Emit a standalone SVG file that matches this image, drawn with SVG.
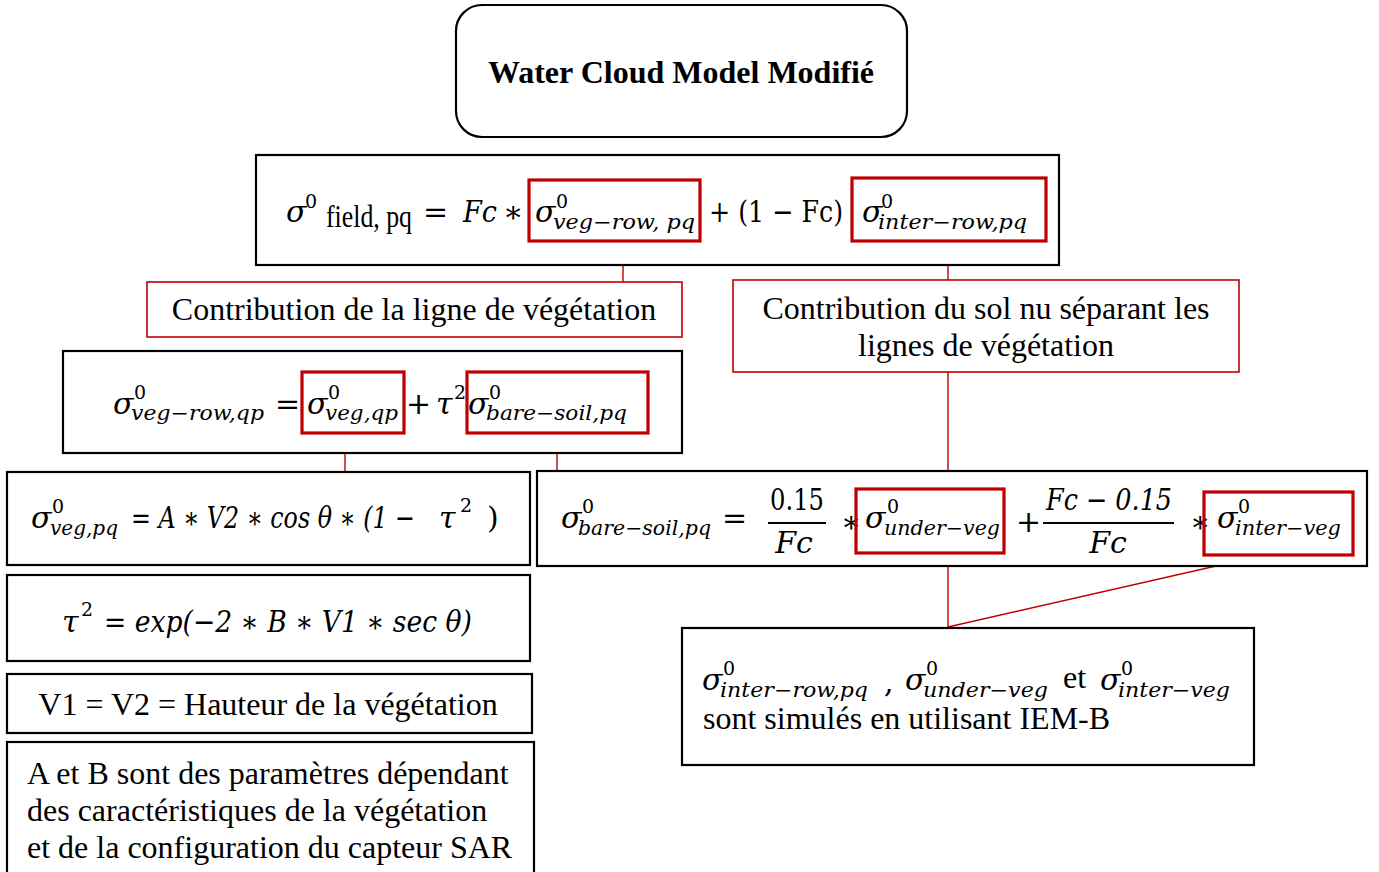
<svg xmlns="http://www.w3.org/2000/svg" width="1379" height="872" viewBox="0 0 1379 872">
<style>
.box{fill:#fff;stroke:#000;stroke-width:2.2}
.rbox{fill:none;stroke:#c00000;stroke-width:3.2}
.lbox{fill:#fff;stroke:#c00000;stroke-width:1.6}
.conn{stroke:#c00000;stroke-width:1.4;fill:none}
.t{font-family:"Liberation Serif","Times New Roman",serif;font-size:32px;fill:#000}
.b{font-weight:bold;font-size:32px}
.m{font-family:"DejaVu Serif",serif;font-style:italic;font-size:30px;fill:#000}
.mu{font-family:"DejaVu Serif",serif;font-size:30px;fill:#000}
.sub{font-family:"DejaVu Serif",serif;font-style:italic;font-size:20px;fill:#000}
.sup{font-family:"DejaVu Serif",serif;font-style:normal;font-size:19px;fill:#000}
</style>
<rect width="1379" height="872" fill="#fff"/>
<g id="connectors">
<line class="conn" x1="623" y1="241" x2="623" y2="282"/>
<line class="conn" x1="948" y1="241" x2="948" y2="280"/>
<line class="conn" x1="948" y1="372" x2="948" y2="471"/>
<line class="conn" x1="345" y1="433" x2="345" y2="472"/>
<line class="conn" x1="557" y1="433" x2="557" y2="471"/>
<line class="conn" x1="948" y1="555" x2="948" y2="627"/>
<line class="conn" x1="1260" y1="556" x2="948" y2="627"/>
</g>
<g id="title">
<rect x="456" y="5" width="451" height="132" rx="26" fill="#fff" stroke="#000" stroke-width="2.2"/>
<text class="t b" x="681" y="83" text-anchor="middle">Water Cloud Model Modifié</text>
</g>
<g id="formula-field">
<rect class="box" x="256" y="155" width="803" height="110"/>
<text class="m" x="286" y="222">σ</text>
<text class="sup" x="305" y="208">0</text>
<text class="t" x="326" y="227" font-size="22" textLength="86" lengthAdjust="spacingAndGlyphs">field, pq</text>
<text class="mu" x="423" y="222">=</text>
<text class="m" x="463" y="222" textLength="34" lengthAdjust="spacingAndGlyphs">Fc</text>
<text class="mu" x="503" y="222">∗</text>
<rect class="rbox" x="529" y="180" width="171" height="61"/>
<text class="m" x="535" y="222">σ</text>
<text class="sup" x="556" y="208">0</text>
<text class="sub" x="553" y="229" textLength="142" lengthAdjust="spacingAndGlyphs">veg−row, pq</text>
<text class="mu" x="709" y="222" textLength="134" lengthAdjust="spacingAndGlyphs">+ (1 − Fc)</text>
<rect class="rbox" x="852" y="178" width="194" height="63"/>
<text class="m" x="862" y="222">σ</text>
<text class="sup" x="881" y="208">0</text>
<text class="sub" x="878" y="229" textLength="149" lengthAdjust="spacingAndGlyphs">inter−row,pq</text>
</g>
<g id="label-veg">
<rect class="lbox" x="147" y="282" width="535" height="55"/>
<text class="t" x="414" y="320" text-anchor="middle">Contribution de la ligne de végétation</text>
</g>
<g id="label-sol">
<rect class="lbox" x="733" y="280" width="506" height="92"/>
<text class="t" x="986" y="319" text-anchor="middle">Contribution du sol nu séparant les</text>
<text class="t" x="986" y="356" text-anchor="middle">lignes de végétation</text>
</g>
<g id="formula-vegrow">
<rect class="box" x="63" y="351" width="619" height="102"/>
<text class="m" x="113" y="414">σ</text>
<text class="sup" x="134" y="399">0</text>
<text class="sub" x="131" y="420" textLength="133" lengthAdjust="spacingAndGlyphs">veg−row,qp</text>
<text class="mu" x="275" y="414">=</text>
<rect class="rbox" x="302" y="372" width="102" height="61"/>
<text class="m" x="307" y="414">σ</text>
<text class="sup" x="328" y="399">0</text>
<text class="sub" x="325" y="420" textLength="73" lengthAdjust="spacingAndGlyphs">veg,qp</text>
<text class="mu" x="406" y="414">+</text>
<text class="m" x="436" y="414">τ</text>
<text class="sup" x="454" y="399">2</text>
<rect class="rbox" x="467" y="372" width="181" height="61"/>
<text class="m" x="468" y="414">σ</text>
<text class="sup" x="489" y="399">0</text>
<text class="sub" x="486" y="420" textLength="141" lengthAdjust="spacingAndGlyphs">bare−soil,pq</text>
</g>
<g id="formula-veg">
<rect class="box" x="7" y="472" width="523" height="93"/>
<text class="m" x="31" y="528">σ</text>
<text class="sup" x="52" y="513">0</text>
<text class="sub" x="50" y="535" textLength="68" lengthAdjust="spacingAndGlyphs">veg,pq</text>
<text class="m" x="131" y="528" textLength="284" lengthAdjust="spacingAndGlyphs">= A ∗ V2 ∗ cos θ ∗ (1 −</text>
<text class="m" x="439" y="528">τ<tspan class="sup" x="460" y="512">2</tspan><tspan font-style="normal" x="487" y="528">)</tspan></text>
</g>
<g id="formula-bare">
<rect class="box" x="537" y="471" width="830" height="95"/>
<text class="m" x="561" y="528">σ</text>
<text class="sup" x="582" y="513">0</text>
<text class="sub" x="578" y="535" textLength="133" lengthAdjust="spacingAndGlyphs">bare−soil,pq</text>
<text class="mu" x="722" y="528">=</text>
<text class="mu" x="797" y="510" text-anchor="middle" textLength="54" lengthAdjust="spacingAndGlyphs">0.15</text>
<line x1="768" y1="523" x2="826" y2="523" stroke="#000" stroke-width="2"/>
<text class="m" x="794" y="553" text-anchor="middle">Fc</text>
<text class="mu" x="841" y="532" font-size="22">∗</text>
<rect class="rbox" x="856" y="489" width="148" height="64"/>
<text class="m" x="865" y="528">σ</text>
<text class="sup" x="887" y="513">0</text>
<text class="sub" x="884" y="535" textLength="116" lengthAdjust="spacingAndGlyphs">under−veg</text>
<text class="mu" x="1016" y="532">+</text>
<text class="m" x="1046" y="510" textLength="126" lengthAdjust="spacingAndGlyphs">Fc −  0.15</text>
<line x1="1043" y1="523" x2="1174" y2="523" stroke="#000" stroke-width="2"/>
<text class="m" x="1108" y="553" text-anchor="middle">Fc</text>
<text class="mu" x="1190" y="532" font-size="22">∗</text>
<rect class="rbox" x="1204" y="492" width="149" height="63"/>
<text class="m" x="1217" y="528">σ</text>
<text class="sup" x="1238" y="513">0</text>
<text class="sub" x="1235" y="535" textLength="106" lengthAdjust="spacingAndGlyphs">inter−veg</text>
</g>
<g id="formula-tau">
<rect class="box" x="7" y="575" width="523" height="86"/>
<text class="m" x="62" y="632">τ</text>
<text class="sup" x="81" y="616">2</text>
<text class="m" x="104" y="632" textLength="368" lengthAdjust="spacingAndGlyphs">= exp(−2 ∗ B ∗ V1 ∗ sec θ)</text>
</g>
<g id="note-iem">
<rect class="box" x="682" y="628" width="572" height="137"/>
<text class="m" x="702" y="690">σ</text>
<text class="sup" x="723" y="675">0</text>
<text class="sub" x="720" y="697" textLength="148" lengthAdjust="spacingAndGlyphs">inter−row,pq</text>
<text class="mu" x="884" y="692">,</text>
<text class="m" x="905" y="690">σ</text>
<text class="sup" x="926" y="675">0</text>
<text class="sub" x="923" y="697" textLength="125" lengthAdjust="spacingAndGlyphs">under−veg</text>
<text class="t" x="1063" y="688">et</text>
<text class="m" x="1100" y="690">σ</text>
<text class="sup" x="1121" y="675">0</text>
<text class="sub" x="1118" y="697" textLength="112" lengthAdjust="spacingAndGlyphs">inter−veg</text>
<text class="t" x="703" y="729">sont simulés en utilisant IEM-B</text>
</g>
<g id="note-height">
<rect class="box" x="7" y="674" width="525" height="59"/>
<text class="t" x="268" y="715" text-anchor="middle">V1 = V2 = Hauteur de la végétation</text>
</g>
<g id="note-params">
<rect class="box" x="7" y="742" width="527" height="140"/>
<text class="t" x="27" y="784">A et B sont des paramètres dépendant</text>
<text class="t" x="27" y="821">des caractéristiques de la végétation</text>
<text class="t" x="27" y="858">et de la configuration du capteur SAR</text>
</g>
</svg>
